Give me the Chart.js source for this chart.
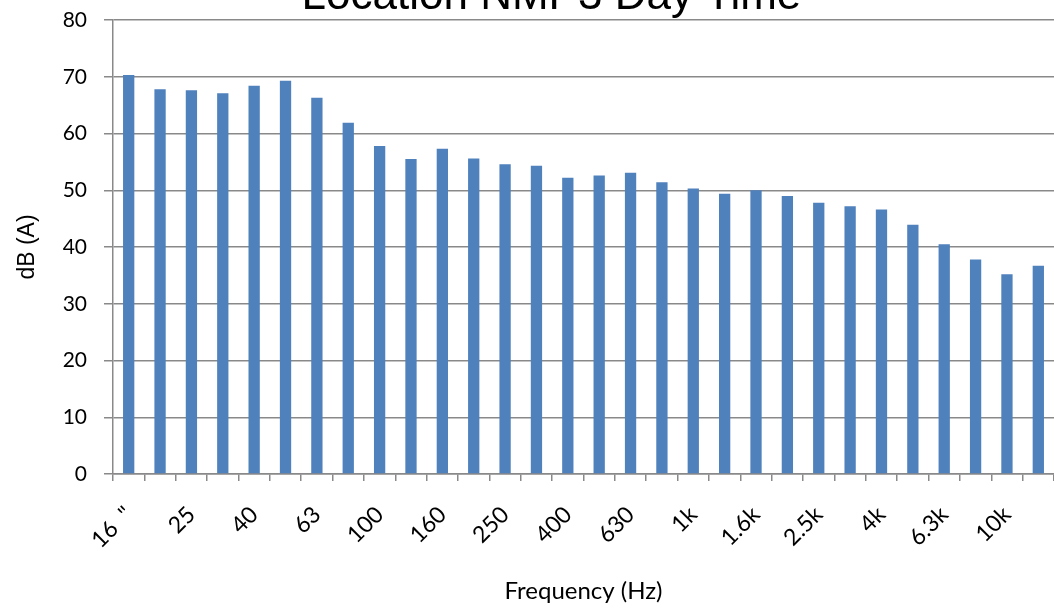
<!DOCTYPE html>
<html>
<head>
<meta charset="utf-8">
<script src="https://cdn.jsdelivr.net/npm/chart.js@4.4.1/dist/chart.umd.min.js"></script>
<style>
  html, body { margin: 0; padding: 0; background: #fff; overflow: hidden; }
  #wrap { position: relative; width: 1054px; height: 612px; overflow: hidden; }
  #chart { position: absolute; left: 0; top: -25px; }
</style>
</head>
<body>
<div id="wrap"><canvas id="chart" width="1054" height="637"></canvas></div>
<script>
// One-third octave bands (Hz)
const bands = ['16  "', '20', '25', '31.5', '40', '50', '63', '80', '100', '125',
  '160', '200', '250', '315', '400', '500', '630', '800', '1k', '1.25k',
  '1.6k', '2k', '2.5k', '3.15k', '4k', '5k', '6.3k', '8k', '10k', '12.5k'];

// Measured level per band, dB(A)
const levels = [70.3, 67.8, 67.6, 67.1, 68.4, 69.3, 66.3, 61.9, 57.8, 55.5,
  57.3, 55.6, 54.6, 54.3, 52.2, 52.6, 53.1, 51.4, 50.3, 49.4,
  50.0, 49.0, 47.8, 47.2, 46.6, 43.9, 40.5, 37.8, 35.2, 36.7];

const yTicks = [0, 10, 20, 30, 40, 50, 60, 70, 80];

const gray = '#898989';

const ctx = document.getElementById('chart').getContext('2d');
new Chart(ctx, {
    type: 'bar',
    data: {
        labels: bands,
        datasets: [{
            label: 'dB(A)',
            data: levels,
            backgroundColor: '#4F81BD',
            barPercentage: 0.36,
            categoryPercentage: 1
        }]
    },
    options: {
        responsive: false,
        animation: false,
        layout: { padding: 0 },
        plugins: {
            legend: { display: false },
            tooltip: { enabled: false },
            title: {
                display: true,
                // leading spaces nudge the centred title to the right, as in the original
                text: '    Location NMP3 Day Time',
                color: '#000',
                font: { family: 'Liberation Sans', size: 44, weight: 'normal', lineHeight: 1 },
                padding: { top: 0, bottom: 1 }
            }
        },
        scales: {
            x: {
                grid: {
                    drawOnChartArea: false,
                    drawTicks: true,
                    tickLength: 7,
                    color: gray,
                    lineWidth: 1.5
                },
                border: { color: gray, width: 1.5 },
                ticks: {
                    autoSkip: false,
                    minRotation: 45,
                    maxRotation: 45,
                    padding: 20,
                    color: '#000',
                    font: { family: 'Lato', size: 23 },
                    callback: function (value, index) {
                        return index % 2 === 0 ? bands[index] : '';
                    }
                },
                title: {
                    display: true,
                    text: 'Frequency (Hz)',
                    color: '#000',
                    font: { family: 'Lato', size: 24 },
                    padding: { top: 0, bottom: 6 }
                },
                afterFit: function (scale) {
                    scale.height = 138;
                    scale.paddingLeft = 0;
                    scale.paddingRight = 0;
                }
            },
            y: {
                min: 0,
                max: 80,
                afterBuildTicks: function (scale) {
                    scale.ticks = yTicks.map(v => ({ value: v }));
                },
                grid: {
                    color: gray,
                    lineWidth: 1.5,
                    tickLength: 9
                },
                border: { color: gray, width: 1.5 },
                ticks: {
                    padding: 17,
                    color: '#000',
                    font: { family: 'Lato', size: 21 }
                },
                title: {
                    display: true,
                    text: 'dB (A)',
                    color: '#000',
                    font: { family: 'Liberation Sans', size: 23 },
                    padding: { top: 14 }
                },
                afterFit: function (scale) { scale.width = 113; }
            }
        }
    }
});
</script>
</body>
</html>
